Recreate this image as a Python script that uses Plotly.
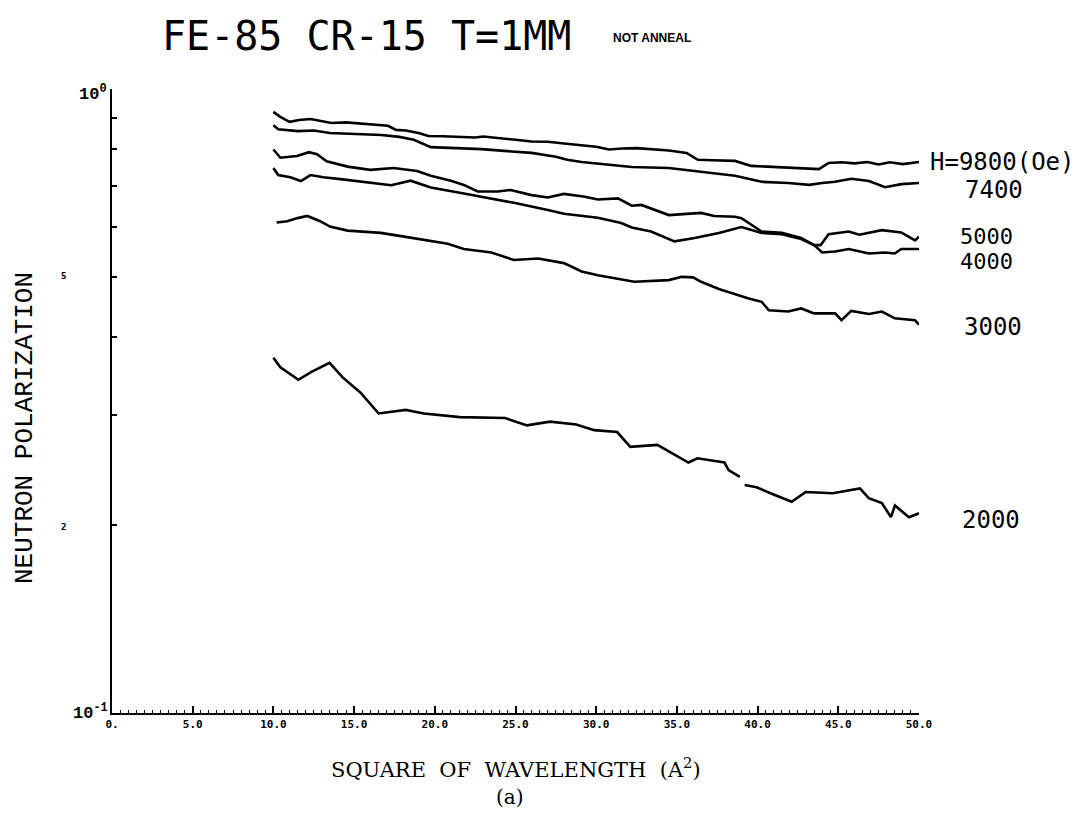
import plotly.graph_objects as go

# ---------------- data ----------------
x_9800 = [10.0, 10.4, 11.0, 11.6, 12.3, 13.0, 13.6, 14.5, 15.5, 16.5, 17.1, 17.6, 18.2, 19.0, 19.6,
          20.5, 21.5, 22.5, 23.0, 24.0, 25.0, 26.0, 27.0, 28.0, 29.0, 30.0, 30.8, 31.6, 32.5, 33.5,
          34.5, 35.6, 36.3, 37.2, 38.6, 39.6, 40.5, 41.5, 42.5, 43.8, 44.4, 45.2, 46.0, 46.8, 47.5,
          48.2, 49.0, 50.0]
y_9800 = [0.919, 0.903, 0.886, 0.892, 0.895, 0.889, 0.882, 0.884, 0.879, 0.876, 0.873, 0.860, 0.858,
          0.850, 0.841, 0.840, 0.838, 0.836, 0.839, 0.833, 0.829, 0.824, 0.823, 0.818, 0.814, 0.808,
          0.800, 0.803, 0.804, 0.800, 0.797, 0.790, 0.770, 0.769, 0.767, 0.753, 0.751, 0.748, 0.746,
          0.744, 0.761, 0.763, 0.760, 0.764, 0.757, 0.763, 0.758, 0.764]

x_7400 = [10.0, 10.3, 11.5, 12.5, 13.5, 15.0, 16.7, 17.8, 18.7, 19.75, 21.0, 22.9, 24.5, 26.0, 27.5,
          28.2, 29.1, 30.3, 32.2, 34.5, 36.5, 38.6, 40.25, 41.9, 43.2, 44.0, 44.8, 45.8, 46.9, 47.9,
          48.9, 50.0]
y_7400 = [0.875, 0.862, 0.856, 0.858, 0.850, 0.848, 0.844, 0.838, 0.829, 0.807, 0.805, 0.801, 0.795,
          0.790, 0.779, 0.770, 0.764, 0.758, 0.750, 0.747, 0.737, 0.726, 0.710, 0.707, 0.702, 0.707,
          0.710, 0.718, 0.712, 0.696, 0.704, 0.707]

x_5000 = [10.0, 10.43, 11.47, 12.2, 12.7, 13.3, 14.6, 16.0, 17.45, 18.9, 19.75, 21.0, 21.8, 22.65,
          23.9, 24.7, 26.0, 27.0, 28.0, 29.3, 30.1, 31.35, 32.2, 32.8, 34.5, 35.7, 36.5, 37.3, 38.6,
          39.0, 40.25, 41.5, 42.7, 43.5, 43.9, 44.4, 45.65, 46.3, 46.9, 47.7, 48.9, 49.75, 50.0]
y_5000 = [0.800, 0.776, 0.781, 0.792, 0.786, 0.766, 0.751, 0.742, 0.747, 0.739, 0.726, 0.713, 0.702,
          0.685, 0.685, 0.689, 0.676, 0.670, 0.679, 0.672, 0.665, 0.668, 0.650, 0.652, 0.628, 0.632,
          0.633, 0.626, 0.624, 0.621, 0.591, 0.588, 0.577, 0.562, 0.562, 0.585, 0.591, 0.584, 0.588,
          0.594, 0.589, 0.572, 0.580]

x_4000 = [10.0, 10.3, 11.05, 11.7, 12.3, 13.1, 14.15, 15.2, 16.2, 17.3, 18.5, 19.75, 21.8, 23.5,
          24.9, 27.0, 28.0, 30.1, 31.55, 32.2, 33.4, 34.85, 36.1, 37.6, 39.0, 40.25, 41.5, 42.7, 43.5,
          44.0, 44.8, 45.65, 46.9, 47.9, 48.5, 48.9, 50.0]
y_4000 = [0.747, 0.728, 0.722, 0.712, 0.728, 0.722, 0.717, 0.712, 0.708, 0.701, 0.713, 0.695, 0.680,
          0.668, 0.657, 0.640, 0.631, 0.622, 0.610, 0.600, 0.591, 0.570, 0.577, 0.588, 0.601, 0.588,
          0.585, 0.575, 0.562, 0.547, 0.549, 0.554, 0.545, 0.547, 0.545, 0.554, 0.554]

x_3000 = [10.2, 10.85, 11.5, 12.1, 12.9, 13.5, 14.6, 15.6, 16.65, 18.1, 19.75, 20.8, 21.8, 23.5,
          24.9, 26.4, 28.0, 29.1, 30.1, 32.36, 34.5, 35.3, 36.0, 36.5, 37.6, 38.6, 39.4, 40.25, 40.7,
          41.9, 42.7, 43.5, 44.8, 45.2, 45.8, 46.9, 47.7, 48.5, 49.75, 50.0]
y_3000 = [0.611, 0.614, 0.621, 0.626, 0.614, 0.602, 0.593, 0.591, 0.588, 0.580, 0.570, 0.565, 0.554,
          0.547, 0.532, 0.535, 0.526, 0.510, 0.503, 0.491, 0.494, 0.500, 0.499, 0.491, 0.478, 0.469,
          0.462, 0.456, 0.442, 0.440, 0.445, 0.437, 0.437, 0.426, 0.441, 0.436, 0.440, 0.429, 0.426,
          0.419]

x_2000 = [10.0, 10.43, 11.55, 12.36, 13.48, 14.29, 15.40, 16.52, 18.20, 19.32, 21.55, 24.35, 25.71,
          27.14, 28.76, 29.88, 31.30, 32.11, 33.79, 35.71, 36.27, 37.95, 38.2, 38.9, None, 39.2,
          39.94, 40.99, 42.11, 42.98, 44.66, 46.34, 46.89, 47.70, 48.26, 48.51, 49.38, 50.0]
y_2000 = [0.371, 0.358, 0.342, 0.352, 0.364, 0.345, 0.326, 0.302, 0.306, 0.302, 0.298, 0.297, 0.289,
          0.293, 0.290, 0.284, 0.282, 0.267, 0.269, 0.252, 0.256, 0.252, 0.245, 0.239, None, 0.232,
          0.230, 0.224, 0.218, 0.226, 0.225, 0.229, 0.221, 0.217, 0.206, 0.215, 0.206, 0.209]

series = [(x_9800, y_9800), (x_7400, y_7400), (x_5000, y_5000),
          (x_4000, y_4000), (x_3000, y_3000), (x_2000, y_2000)]

x_tickvals = [0, 5, 10, 15, 20, 25, 30, 35, 40, 45, 50]
x_ticktext = ["0.", "5.0", "10.0", "15.0", "20.0", "25.0", "30.0", "35.0", "40.0", "45.0", "50.0"]
y_tickvals = [0.1, 0.2, 0.3, 0.4, 0.5, 0.6, 0.7, 0.8, 0.9, 1.0]

curve_labels = ["H=9800(Oe)", "7400", "5000", "4000", "3000", "2000"]

# ---------------- figure ----------------
fig = go.Figure()
for xs, ys in series:
    fig.add_trace(go.Scatter(x=xs, y=ys, mode="lines", connectgaps=False, showlegend=False,
                             line=dict(color="black", width=2.6)))

W, H = 1084, 821
L, R, T, B = 112, 165, 89, 108
pw, ph = W - L - R, H - T - B


def px(xp):
    return (xp - L) / pw


def py(yp):
    return (H - B - yp) / ph


fig.update_layout(
    width=W, height=H,
    paper_bgcolor="white", plot_bgcolor="white",
    margin=dict(l=L, r=R, t=T, b=B, pad=0),
    xaxis=dict(range=[0, 50], showline=True, linecolor="black", linewidth=2,
               ticks="inside", ticklen=7, tickwidth=1.5, tickcolor="black",
               tickmode="array", tickvals=x_tickvals, ticktext=x_ticktext,
               tickfont=dict(family="DejaVu Sans Mono", size=11, color="black", weight="bold"),
               showgrid=False, zeroline=False,
               minor=dict(dtick=0.5, ticks="inside", ticklen=3, tickwidth=1,
                          tickcolor="black", showgrid=False)),
    yaxis=dict(type="log", range=[-1, 0], showline=True, linecolor="black", linewidth=2,
               ticks="inside", ticklen=5, tickwidth=1.5, tickcolor="black",
               tickmode="array", tickvals=y_tickvals, showticklabels=False,
               showgrid=False, zeroline=False),
)

ann = []
# title
ann.append(dict(text="FE-85 CR-15 T=1MM", x=px(160), y=py(36), xanchor="left", yanchor="middle",
                font=dict(family="DejaVu Sans Mono", size=40, color="black")))
ann.append(dict(text="NOT ANNEAL", x=px(611), y=py(38), xanchor="left", yanchor="middle",
                font=dict(family="Liberation Sans", size=12, color="black", weight="bold")))
# curve labels
lab_pos = [(928, 162), (963, 190), (958, 236), (958, 261), (962, 327), (960, 520)]
lab_size = [24, 24, 22, 22, 24, 24]
for txt, (lx, ly), fs in zip(curve_labels, lab_pos, lab_size):
    ann.append(dict(text=txt, x=px(lx), y=py(ly), xanchor="left", yanchor="middle",
                    font=dict(family="DejaVu Sans Mono", size=fs, color="black")))
# axis titles
ann.append(dict(text="SQUARE  OF  WAVELENGTH  (A<sup>2</sup>)", x=px(516), y=py(768),
                xanchor="center", yanchor="middle",
                font=dict(family="DejaVu Serif", size=21, color="black")))
ann.append(dict(text="(a)", x=px(510), y=py(797), xanchor="center", yanchor="middle",
                font=dict(family="DejaVu Serif", size=20, color="black")))
ann.append(dict(text="NEUTRON POLARIZATION", x=px(25), y=py(428), textangle=-90,
                xanchor="center", yanchor="middle",
                font=dict(family="Liberation Mono", size=26, color="black")))
# y tick labels
ann.append(dict(text="10<sup>0</sup>", x=px(109), y=py(93), xanchor="right", yanchor="middle",
                font=dict(family="Liberation Mono", size=17, color="black", weight="bold")))
ann.append(dict(text="10<sup>-1</sup>", x=px(110), y=py(712), xanchor="right", yanchor="middle",
                font=dict(family="Liberation Mono", size=17, color="black", weight="bold")))
ann.append(dict(text="5", x=px(63), y=py(276), xanchor="center", yanchor="middle",
                font=dict(family="DejaVu Sans Mono", size=9, color="black", weight="bold")))
ann.append(dict(text="2", x=px(63), y=py(527), xanchor="center", yanchor="middle",
                font=dict(family="DejaVu Sans Mono", size=9, color="black", weight="bold")))

for a in ann:
    a.update(xref="paper", yref="paper", showarrow=False)
fig.update_layout(annotations=ann)

fig.write_html("out.html")
